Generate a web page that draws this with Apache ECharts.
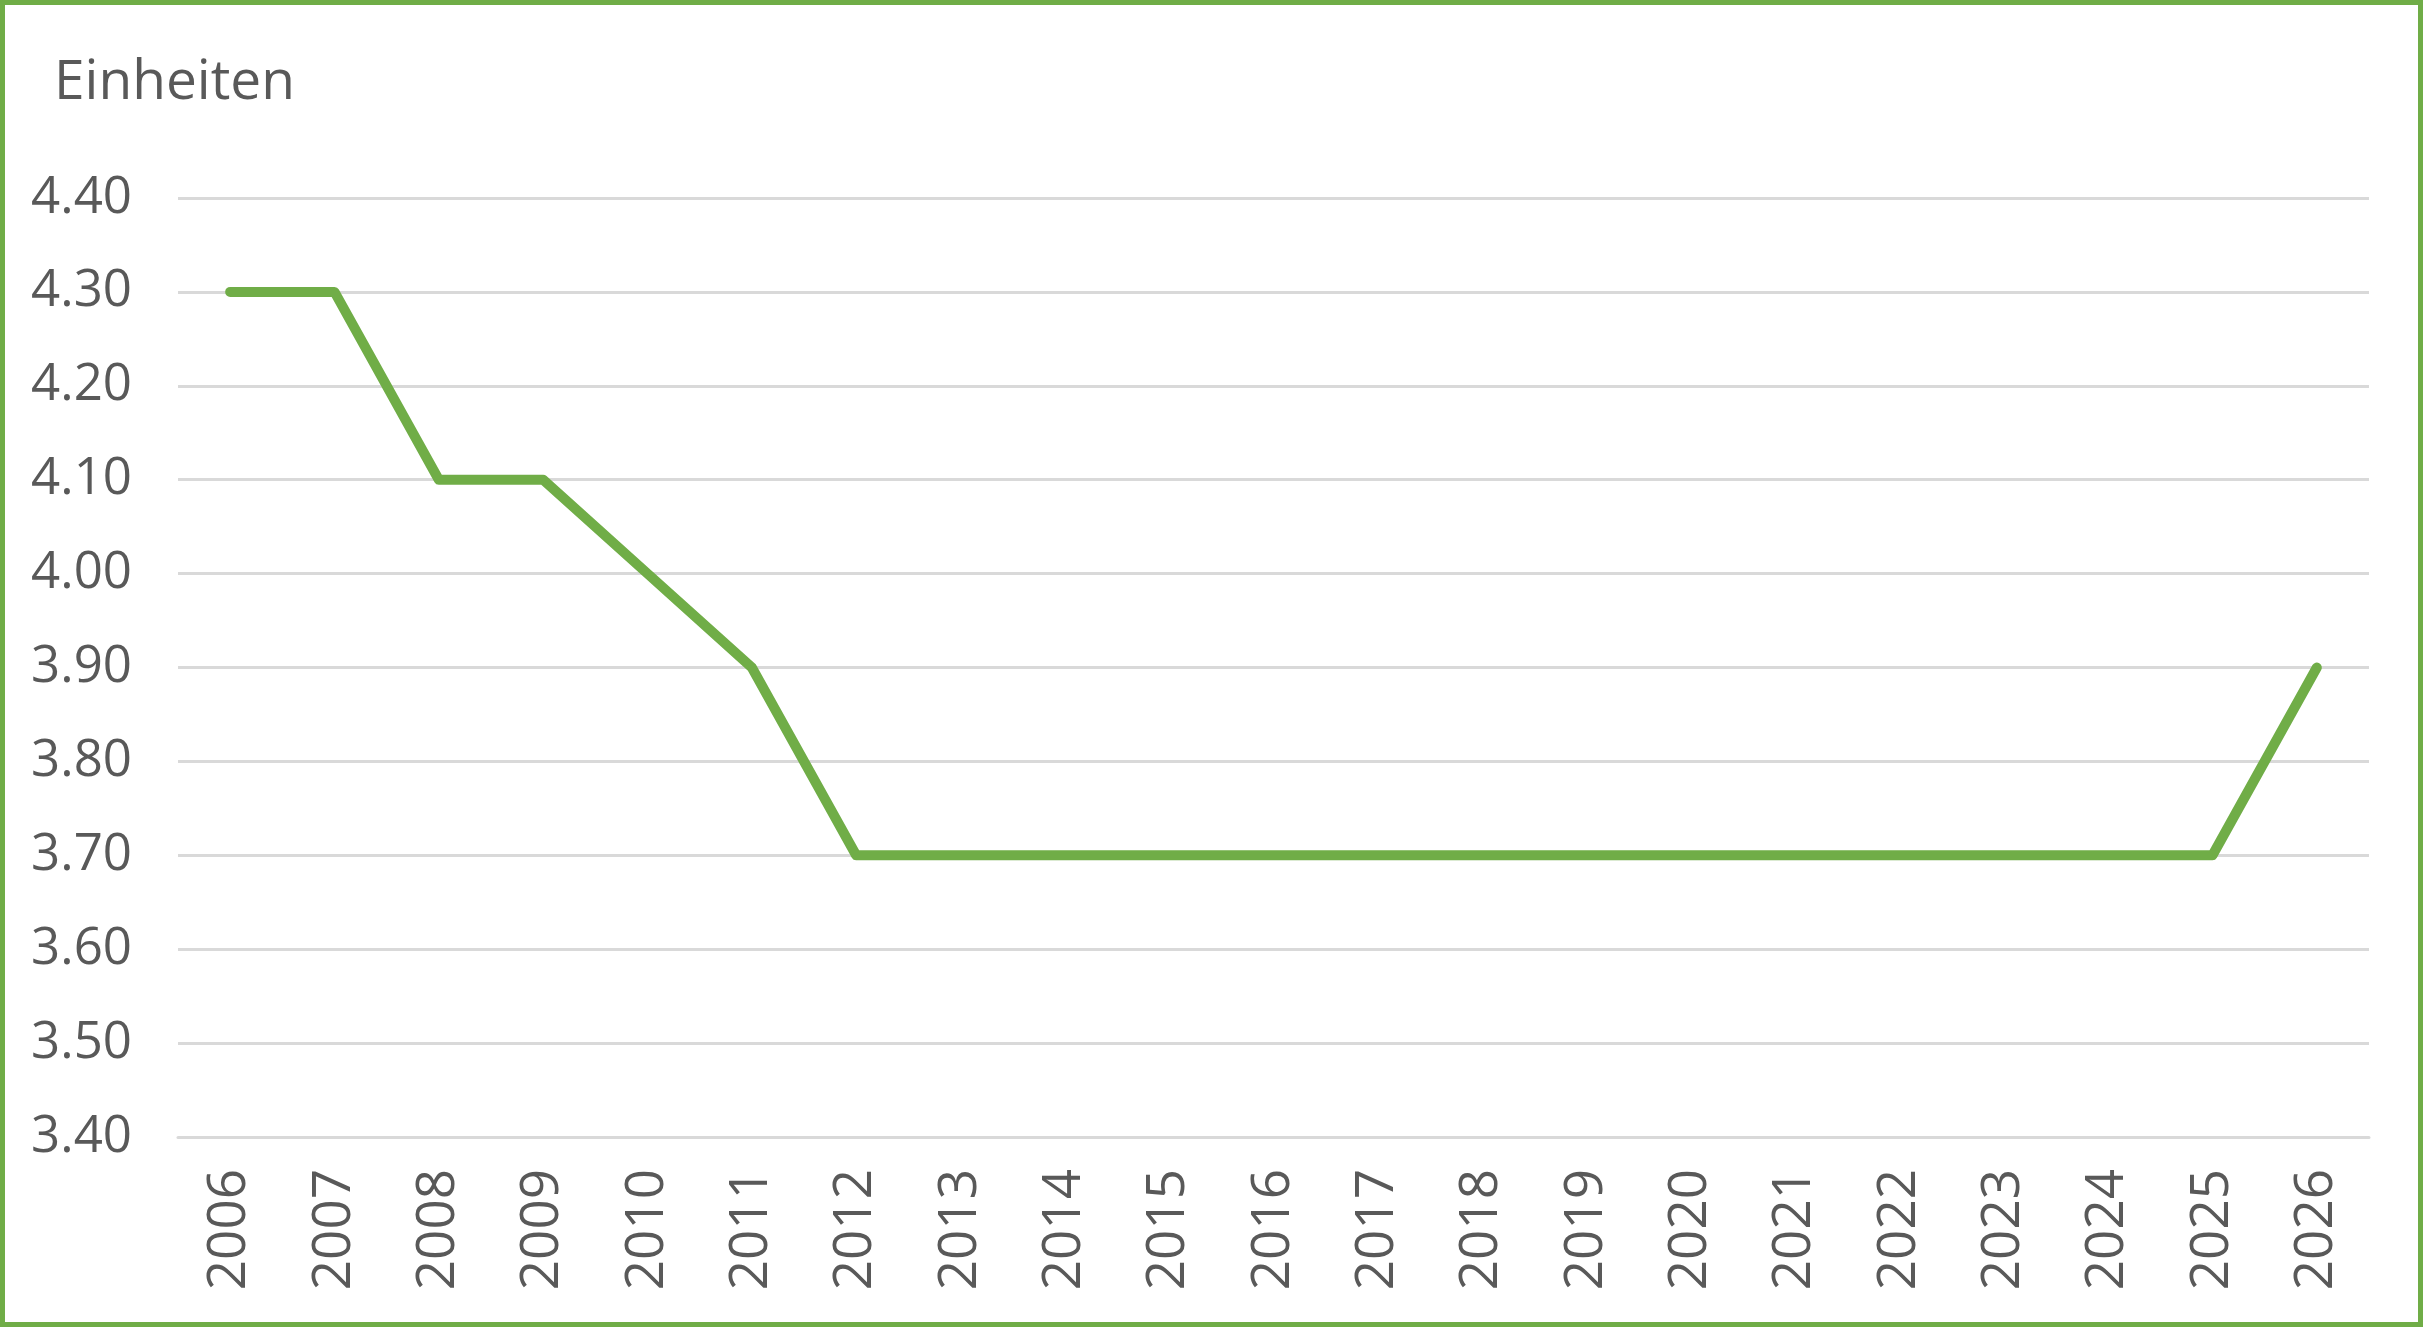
<!DOCTYPE html>
<html lang="de">
<head>
    <meta charset="UTF-8">
    <title>Einheiten</title>
    <script src="https://cdn.jsdelivr.net/npm/echarts@6.0.0/dist/echarts.min.js"></script>
    <style>
        html, body { margin: 0; padding: 0; background: #fff; }
        #chart { width: 2423px; height: 1327px; box-sizing: border-box; border: 5px solid #70AD47; }
    </style>
</head>
<body>
    <div id="chart"></div>
    <script>
        // Jahre auf der x-Achse
        const years = ['2006', '2007', '2008', '2009', '2010', '2011', '2012', '2013', '2014', '2015', '2016',
            '2017', '2018', '2019', '2020', '2021', '2022', '2023', '2024', '2025', '2026'];
        // Werte (Einheiten)
        const values = [4.30, 4.30, 4.10, 4.10, 4.00, 3.90, 3.70, 3.70, 3.70, 3.70, 3.70,
            3.70, 3.70, 3.70, 3.70, 3.70, 3.70, 3.70, 3.70, 3.70, 3.90];
        const yMin = 3.4;
        const yMax = 4.4;
        const yStep = 0.1;

        const font = '"Open Sans", "Noto Sans", sans-serif';
        const chart = echarts.init(document.getElementById('chart'));
        chart.setOption({
            animation: false,
            title: {
                text: 'Einheiten',
                left: 44,
                top: 46,
                textStyle: { fontFamily: font, fontSize: 55, fontWeight: 'normal', color: '#595959' }
            },
            grid: { left: 173, right: 49, top: 193, bottom: 185, containLabel: false },
            xAxis: {
                type: 'category',
                data: years,
                boundaryGap: true,
                axisLine: { show: true, lineStyle: { color: '#D9D9D9', width: 3 } },
                axisTick: { show: false },
                axisLabel: {
                    rotate: 90, interval: 0, margin: 32,
                    fontFamily: font, fontSize: 53, color: '#595959'
                }
            },
            yAxis: {
                type: 'value',
                min: yMin,
                max: yMax,
                interval: yStep,
                axisLine: { show: false },
                axisTick: { show: false },
                axisLabel: {
                    margin: 46,
                    padding: [6, 0, 0, 0],
                    fontFamily: font, fontSize: 51, color: '#595959',
                    formatter: v => v.toFixed(2)
                },
                splitLine: { lineStyle: { color: '#D9D9D9', width: 3 } }
            },
            series: [{
                type: 'line',
                data: values,
                symbol: 'none',
                lineStyle: { color: '#70AD47', width: 10, cap: 'round', join: 'round' }
            }]
        });
    </script>
</body>
</html>
